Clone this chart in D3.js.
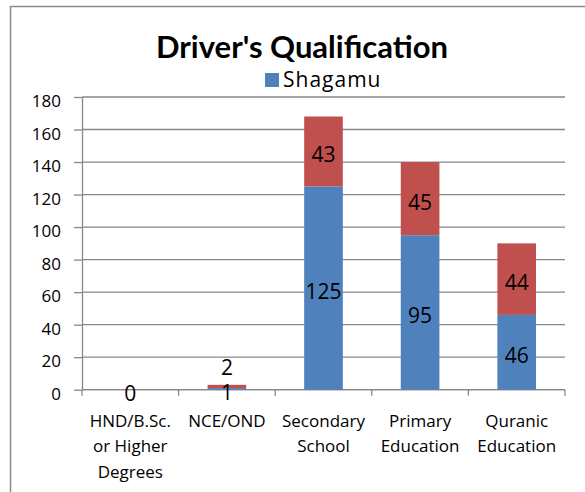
<!DOCTYPE html>
<html>
<head>
<meta charset="utf-8">
<script src="https://cdn.jsdelivr.net/npm/d3@7"></script>
<style>
  body { margin: 0; background: #fff; }
  text { font-family: "Open Sans", Lato, sans-serif; fill: #000; }
</style>
</head>
<body>
<script>
// chart data
const categories = ["HND/B.Sc. or Higher Degrees", "NCE/OND", "Secondary School", "Primary Education", "Quranic Education"];
const categoryLines = [["HND/B.Sc.", "or Higher", "Degrees"], ["NCE/OND"], ["Secondary", "School"], ["Primary", "Education"], ["Quranic", "Education"]];
const seriesNames = ["Shagamu", "Other"];
const shagamu = [0, 1, 125, 95, 46];
const other = [0, 2, 43, 45, 44];
const yTicks = [0, 20, 40, 60, 80, 100, 120, 140, 160, 180];
const colors = ["#4f81bd", "#c0504d"];

const width = 585, height = 492;
const plot = { left: 82, right: 565, top: 97, bottom: 389.7 };

const svg = d3.select("body").append("svg")
    .attr("width", width)
    .attr("height", height);

// chart area border (only top and left visible)
svg.append("path")
    .attr("d", "M10.5," + height + "V6.5H" + width)
    .attr("fill", "none")
    .attr("stroke", "#8a8a8a")
    .attr("stroke-width", 1.5);

// scales
const x = d3.scaleBand()
    .domain(categories)
    .range([plot.left, plot.right])
    .paddingInner(0.6)
    .paddingOuter(0.3);

const y = d3.scaleLinear()
    .domain([0, 180])
    .range([plot.bottom, plot.top]);

// gridlines
svg.append("g")
    .selectAll("line")
    .data(yTicks)
    .enter().append("line")
    .attr("x1", plot.left)
    .attr("x2", plot.right)
    .attr("y1", d => y(d))
    .attr("y2", d => y(d))
    .attr("stroke", "#878787")
    .attr("stroke-width", 1.3);

// y axis
const yAxis = svg.append("g")
    .attr("transform", "translate(" + plot.left + ",0)")
    .call(d3.axisLeft(y).tickValues(yTicks).tickSize(8).tickSizeOuter(0).tickPadding(13));
yAxis.select(".domain").attr("stroke", "#878787").attr("stroke-width", 1.3);
yAxis.selectAll(".tick line").attr("stroke", "#878787").attr("stroke-width", 1.3);
yAxis.selectAll(".tick text")
    .attr("dy", "0.56em")
    .style("font-family", "'Open Sans', sans-serif")
    .style("font-size", "17px")
    .attr("fill", "#000");

// x axis line and category boundary ticks
svg.append("line")
    .attr("x1", plot.left)
    .attr("x2", plot.right)
    .attr("y1", y(0))
    .attr("y2", y(0))
    .attr("stroke", "#878787")
    .attr("stroke-width", 1.3);

const boundaries = categories.map(c => x(c) - (x.step() - x.bandwidth()) / 2).concat([plot.right]);
svg.append("g")
    .selectAll("line")
    .data(boundaries)
    .enter().append("line")
    .attr("x1", d => d)
    .attr("x2", d => d)
    .attr("y1", y(0))
    .attr("y2", y(0) + 6)
    .attr("stroke", "#878787")
    .attr("stroke-width", 1.3);

// category labels
const catLabels = svg.append("g")
    .selectAll("text")
    .data(categories)
    .enter().append("text")
    .attr("text-anchor", "middle")
    .style("font-size", "17px");
catLabels.each(function(d, i) {
    d3.select(this).selectAll("tspan")
        .data(categoryLines[i])
        .enter().append("tspan")
        .attr("x", x(d) + x.bandwidth() / 2)
        .attr("y", (t, j) => 426.5 + j * 25.5)
        .text(t => t);
});

// stacked bars
const table = categories.map((c, i) => ({ category: c, Shagamu: shagamu[i], Other: other[i] }));
const stacked = d3.stack().keys(seriesNames)(table);

const layers = svg.append("g")
    .selectAll("g")
    .data(stacked)
    .enter().append("g")
    .attr("fill", (d, i) => colors[i]);

layers.selectAll("rect")
    .data(d => d)
    .enter().append("rect")
    .attr("x", d => x(d.data.category))
    .attr("width", x.bandwidth())
    .attr("y", d => y(d[1]))
    .attr("height", d => y(d[0]) - y(d[1]));

// value labels, drawn above all bars
const labelGroup = svg.append("g");
stacked.forEach(function(layer, li) {
    labelGroup.append("g")
        .selectAll("text")
        .data(layer.filter(d => !(li > 0 && d[1] - d[0] === 0)))
        .enter().append("text")
        .attr("text-anchor", "middle")
        .attr("x", d => x(d.data.category) + x.bandwidth() / 2)
        .attr("y", d => {
            const top = y(d[1]), bottom = y(d[0]);
            const mid = (top + bottom) / 2;
            // tiny top segments get pushed above the bar
            if (li > 0 && bottom - top < 16) return top - 10;
            return mid + 11;
        })
        .style("font-size", "21px")
        .attr("fill", "#000")
        .text(d => d[1] - d[0]);
});

// title
svg.append("text")
    .attr("x", 302)
    .attr("y", 58)
    .attr("text-anchor", "middle")
    .style("font-family", "Lato, sans-serif")
    .style("font-size", "31px")
    .style("font-weight", "bold")
    .text("Driver's Qualification");

// legend (first series only)
const legend = svg.append("g").attr("transform", "translate(265,73)");
legend.append("rect")
    .attr("width", 14)
    .attr("height", 14)
    .attr("fill", colors[0]);
legend.append("text")
    .attr("x", 18)
    .attr("y", 14)
    .style("font-size", "21px")
    .style("letter-spacing", "1px")
    .text(seriesNames[0]);
</script>
</body>
</html>
